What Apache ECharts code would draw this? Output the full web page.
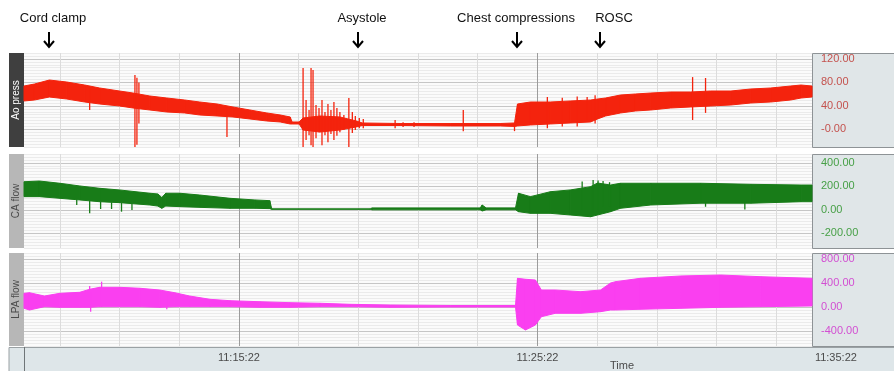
<!DOCTYPE html>
<html lang="en">
<head>
    <meta charset="UTF-8">
    <title>Ao press / CA flow / LPA flow</title>
    <script src="https://cdn.jsdelivr.net/npm/echarts@6.0.0/dist/echarts.min.js"></script>
    <style>
        html, body { margin: 0; padding: 0; background: #ffffff; }
        #container { width: 894px; height: 371px; }
    </style>
</head>
<body>
<div id="container"></div>
<script>
    // time is in seconds, counted from 11:15:22
    var clockStart = 11 * 3600 + 15 * 60 + 22;

    var eventNames = ['Cord clamp', 'Asystole', 'Chest compressions', 'ROSC'];
    var eventTimes = [-381, 240, 560, 725];

    // Ao press envelope (mmHg)
    var aoTime = [-432, -411, -381, -346, -310, -280, -240, -213, -179, -145, -109, -79, -44, -12, 22, 56, 83, 103, 107, 121,
        129, 163, 203, 236, 248, 324, 425, 526, 554, 560, 586, 626, 666, 707, 721, 737, 767, 797, 828, 868,
        908, 948, 989, 1029, 1069, 1109, 1130, 1152];
    var aoHigh = [73.8, 77.2, 84, 80.6, 75.5, 70.4, 65.3, 61.9, 56.8, 53.4, 50, 46.6, 43.2, 38.1, 33, 27.9, 24.5, 21.1, 12.6, 12.6,
        19.4, 22.8, 21.1, 14.3, 10.9, 10, 10, 10, 10.9, 43.2, 46.6, 46.6, 48.3, 50, 51.7, 53.4, 58.5, 60.2, 61.9, 63.6,
        63.6, 65.3, 65.3, 68.7, 70.4, 73.8, 75.5, 73.8];
    var aoLow = [48.3, 50, 55.1, 51.7, 46.6, 43.2, 39.8, 36.4, 33, 29.6, 27.9, 24.5, 22.8, 21.1, 17.7, 14.3, 12.6, 9.2, 9.2, 9.2,
        -1.1, -4.5, -1.1, 4.1, 6.6, 6.6, 5.8, 5.8, 5, 5.8, 7.5, 9.2, 10.9, 12.6, 17.7, 22.8, 27.9, 31.3, 33, 36.4,
        38.1, 39.8, 41.5, 44.9, 46.6, 50, 53.4, 55.1];
    var aoSpikeTime = [-300, -209, -205, -201, -24, 129, 135, 141, 145, 149, 155, 161, 167, 173, 179, 185, 191, 197, 203, 211,
        221, 228, 234, 242, 250, 314, 330, 352, 451, 554, 620, 650, 680, 700, 716, 912, 938];
    var aoSpikeLow = [33, -30, -26, 10, -13, -30, -18, -10, -27, -30, -15, -5, -27, -10, -22, -8, -18, -11, -5, -1,
        -30, -6, -1, 2, 2, 2, 4, 4, -3, -3, 2, 5, 5, 16, 10, 16, 28];
    var aoSpikeHigh = [70, 92.6, 88, 80, 38, 104.5, 50, 33, 104.5, 101, 41.5, 36.4, 50, 29.6, 43.2, 33, 46.6, 36.4, 29.6, 24.5,
        53.4, 29.6, 22.8, 19.4, 17.7, 16, 12, 12, 33, 10, 55, 54, 56, 55, 58, 89, 87.5];

    // CA flow envelope
    var caTime = [-432, -401, -360, -320, -280, -240, -179, -163, -155, -147, -119, -79, -18, 32, 62, 66, 264, 268, 485, 489,
        497, 556, 562, 586, 626, 666, 707, 721, 747, 767, 828, 928, 1029, 1130, 1152];
    var caHigh = [239, 245, 226, 203, 183, 169, 141, 135, 105, 141, 141, 126, 98, 84, 78, 8, 8, 16, 16, 41,
        16, 16, 141, 112, 154, 169, 197, 228, 211, 226, 226, 226, 217, 211, 211];
    var caLow = [112, 112, 98, 84, 69, 61, 41, 32, 13, 32, 27, 21, 13, 13, 10, 4, 4, 0, 0, -10,
        0, 0, -16, -30, -30, -44, -59, -44, -16, 13, 41, 56, 56, 69, 69];
    var caSpikeTime = [-326, -300, -278, -256, -236, -215, 690, 712, 722, 732, 745, 938, 1017];
    var caSpikeLow = [41, -30, 7, 7, -16, -2, 0, -20, 0, 30, 30, 26, 3];
    var caSpikeHigh = [90, 80, 70, 65, 60, 55, 240, 254, 250, 245, 235, 60, 60];

    // LPA flow envelope
    var lpaTime = [-432, -421, -391, -360, -320, -300, -280, -240, -199, -159, -129, -99, -58, -18, 42, 103, 163, 223, 304, 425,
        556, 560, 576, 596, 608, 636, 687, 727, 747, 757, 807, 888, 968, 1049, 1152];
    var lpaHigh = [228, 238, 183, 228, 245, 295, 328, 328, 312, 283, 238, 183, 128, 105, 88, 72, 62, 45, 33, 25,
        25, 478, 462, 450, 283, 283, 255, 283, 400, 422, 478, 517, 533, 505, 478];
    var lpaLow = [-22, -50, 5, -5, -5, -5, 5, 5, 5, -5, 5, 5, 5, 5, -5, -5, 5, 5, -5, 0,
        0, -300, -383, -300, -162, -105, -105, -78, -50, -50, -38, -22, -5, 5, 17];
    var lpaSpikeTime = [-300, -298, -276, -145];
    var lpaSpikeLow = [0, -78, 0, -38];
    var lpaSpikeHigh = [350, 250, 422, 200];

    // right hand tick labels
    var aoTickValues = [0, 40, 80, 120];
    var aoTickLabels = ['-0.00', '40.00', '80.00', '120.00'];
    var caTickValues = [-200, 0, 200, 400];
    var caTickLabels = ['-200.00', '0.00', '200.00', '400.00'];
    var lpaTickValues = [-400, 0, 400, 800];
    var lpaTickLabels = ['-400.00', '0.00', '400.00', '800.00'];
    var timeTickValues = [0, 600, 1200];

    var panels = [
        {name: 'Ao press', top: 53, height: 94, min: -30, max: 130, step: 5,
            color: '#f4230d', labelColor: '#c4524e', stripFill: '#3f3f3f', stripText: '#ffffff',
            time: aoTime, low: aoLow, high: aoHigh, spikeTime: aoSpikeTime, spikeLow: aoSpikeLow, spikeHigh: aoSpikeHigh,
            tickValues: aoTickValues, tickLabels: aoTickLabels},
        {name: 'CA flow', top: 154, height: 94, min: -325, max: 475, step: 25,
            color: '#187c18', labelColor: '#47a047', stripFill: '#b7b7b7', stripText: '#4a4a4a',
            time: caTime, low: caLow, high: caHigh, spikeTime: caSpikeTime, spikeLow: caSpikeLow, spikeHigh: caSpikeHigh,
            tickValues: caTickValues, tickLabels: caTickLabels},
        {name: 'LPA flow', top: 253, height: 93, min: -650, max: 900, step: 50,
            color: '#fa3ff0', labelColor: '#d24fd2', stripFill: '#b7b7b7', stripText: '#4a4a4a',
            time: lpaTime, low: lpaLow, high: lpaHigh, spikeTime: lpaSpikeTime, spikeLow: lpaSpikeLow, spikeHigh: lpaSpikeHigh,
            tickValues: lpaTickValues, tickLabels: lpaTickLabels}
    ];

    var plotLeft = 24;
    var plotWidth = 788;
    var tMin = -432, tMax = 1152, tStep = 24;
    var fontFamily = '"Liberation Sans", Arial, sans-serif';

    function pad(n) {
        return (n < 10 ? '0' : '') + n;
    }

    function clock(s) {
        var v = clockStart + s;
        return pad(Math.floor(v / 3600)) + ':' + pad(Math.floor(v % 3600 / 60)) + ':' + pad(v % 60);
    }

    // vertical grid: every 2 min a light line, every 10 min a dark one
    var xLineColors = [];
    for (var k = 0; k < 25; k++) {
        var sec = tMin + k * tStep;
        if (((sec % 600) + 600) % 600 === 0) xLineColors.push('#9c9c9c');
        else if (((sec % 120) + 120) % 120 === 0) xLineColors.push('#dcdcdc');
        else xLineColors.push('rgba(0,0,0,0)');
    }

    var grids = [], xAxes = [], yAxes = [], series = [];

    panels.forEach(function (p, i) {
        grids.push({
            left: plotLeft, top: p.top, width: plotWidth, height: p.height,
            show: true, backgroundColor: '#fbfbfb', borderWidth: 0,
            containLabel: false, outerBoundsMode: 'none'
        });
        xAxes.push({
            type: 'value', gridIndex: i, min: tMin, max: tMax, interval: tStep,
            axisLine: {show: false}, axisTick: {show: false}, axisLabel: {show: false},
            splitLine: {show: true, lineStyle: {color: xLineColors, width: 1}}
        });
        var majorIdx = Math.round((0 - p.min) / p.step) % 8;
        var yLineColors = [];
        for (var j = 0; j < 8; j++) yLineColors.push(j === majorIdx ? '#c6c6c6' : '#ebebeb');
        yAxes.push({
            type: 'value', gridIndex: i, position: 'right', min: p.min, max: p.max, interval: p.step,
            axisLine: {show: false}, axisTick: {show: false},
            axisLabel: {
                margin: 9, color: p.labelColor, fontSize: 11, fontFamily: fontFamily,
                formatter: function (v) {
                    var idx = p.tickValues.indexOf(v);
                    return idx >= 0 ? p.tickLabels[idx] : '';
                }
            },
            splitLine: {show: true, lineStyle: {color: yLineColors, width: 1}}
        });

        // envelope band: one quad per pair of neighbouring samples
        series.push({
            name: p.name, type: 'custom', xAxisIndex: i, yAxisIndex: i, silent: true, z: 2,
            encode: {x: 0, y: [1, 2]},
            data: p.time.map(function (t, n) { return [t, p.low[n], p.high[n]]; }),
            renderItem: function (params, api) {
                var n = params.dataIndex;
                if (n >= p.time.length - 1) return null;
                var pts = [
                    api.coord([p.time[n], p.low[n]]),
                    api.coord([p.time[n + 1], p.low[n + 1]]),
                    api.coord([p.time[n + 1], p.high[n + 1]]),
                    api.coord([p.time[n], p.high[n]])
                ];
                return {
                    type: 'polygon',
                    shape: {points: pts},
                    style: {fill: p.color, stroke: p.color, lineWidth: 1}
                };
            }
        });
        series.push({
            name: p.name + ' spikes', type: 'custom', xAxisIndex: i, yAxisIndex: i, silent: true, z: 3,
            encode: {x: 0, y: [1, 2]},
            data: p.spikeTime.map(function (t, n) { return [t, p.spikeLow[n], p.spikeHigh[n]]; }),
            renderItem: function (params, api) {
                var a = api.coord([api.value(0), api.value(1)]);
                var b = api.coord([api.value(0), api.value(2)]);
                return {
                    type: 'line',
                    shape: {x1: a[0], y1: a[1], x2: b[0], y2: b[1]},
                    style: {stroke: p.color, lineWidth: 1.3}
                };
            }
        });
    });

    // time strip along the bottom
    var stripWidth = (tMax - tMin + 96) / (tMax - tMin) * plotWidth;
    grids.push({left: plotLeft, top: 347, width: stripWidth, height: 24, show: false, containLabel: false, outerBoundsMode: 'none'});
    xAxes.push({
        type: 'value', gridIndex: 3, position: 'top', min: tMin, max: tMax + 96, interval: tStep,
        axisLine: {show: false}, axisTick: {show: false}, splitLine: {show: false},
        axisLabel: {
            inside: true, margin: 5, color: '#4a4a4a', fontSize: 11, fontFamily: fontFamily,
            formatter: function (v) {
                return timeTickValues.indexOf(v) >= 0 ? clock(v) : '';
            }
        }
    });
    yAxes.push({type: 'value', gridIndex: 3, show: false});

    var chart = echarts.init(document.getElementById('container'));
    chart.setOption({
        animation: false,
        grid: grids,
        xAxis: xAxes,
        yAxis: yAxes,
        series: series
    });

    // frames, side strips and event arrows
    var graphics = [];
    panels.forEach(function (p) {
        graphics.push({
            type: 'rect', z: -10, silent: true,
            shape: {x: 812.5, y: p.top + 0.5, width: 100, height: p.height},
            style: {fill: '#e0e6e8', stroke: '#8e9396', lineWidth: 1}
        });
        graphics.push({
            type: 'rect', z: -10, silent: true,
            shape: {x: 9, y: p.top, width: 15, height: p.height},
            style: {fill: p.stripFill}
        });
        graphics.push({
            type: 'text', silent: true,
            x: 16.5, y: p.top + p.height / 2, rotation: Math.PI / 2,
            style: {text: p.name, fill: p.stripText, font: '10px ' + fontFamily, align: 'center', verticalAlign: 'middle'}
        });
    });
    graphics.push({
        type: 'rect', z: -10, silent: true,
        shape: {x: 9, y: 347.5, width: 900, height: 30},
        style: {fill: '#dee6e9', stroke: '#9aa1a4', lineWidth: 1}
    });
    graphics.push({
        type: 'line', silent: true,
        shape: {x1: 24.5, y1: 347, x2: 24.5, y2: 371},
        style: {stroke: '#6f7578', lineWidth: 1}
    });
    graphics.push({
        type: 'text', silent: true, x: 622, y: 366,
        style: {text: 'Time', fill: '#4a4a4a', font: '11px ' + fontFamily, align: 'center', verticalAlign: 'middle'}
    });

    var labelShift = [4, 4, -1, 14];
    eventTimes.forEach(function (t, i) {
        var x = Math.round(chart.convertToPixel({gridIndex: 0}, [t, 0])[0]);
        graphics.push({
            type: 'text', silent: true, x: x + labelShift[i], y: 18,
            style: {text: eventNames[i], fill: '#111111', font: '13px ' + fontFamily, align: 'center', verticalAlign: 'middle'}
        });
        graphics.push({
            type: 'polyline', silent: true,
            shape: {points: [[x, 32], [x, 47]]},
            style: {stroke: '#000000', lineWidth: 2, fill: null}
        });
        graphics.push({
            type: 'polyline', silent: true,
            shape: {points: [[x - 5, 41], [x, 47], [x + 5, 41]]},
            style: {stroke: '#000000', lineWidth: 2, fill: null}
        });
    });

    chart.setOption({graphic: graphics});
</script>
</body>
</html>
